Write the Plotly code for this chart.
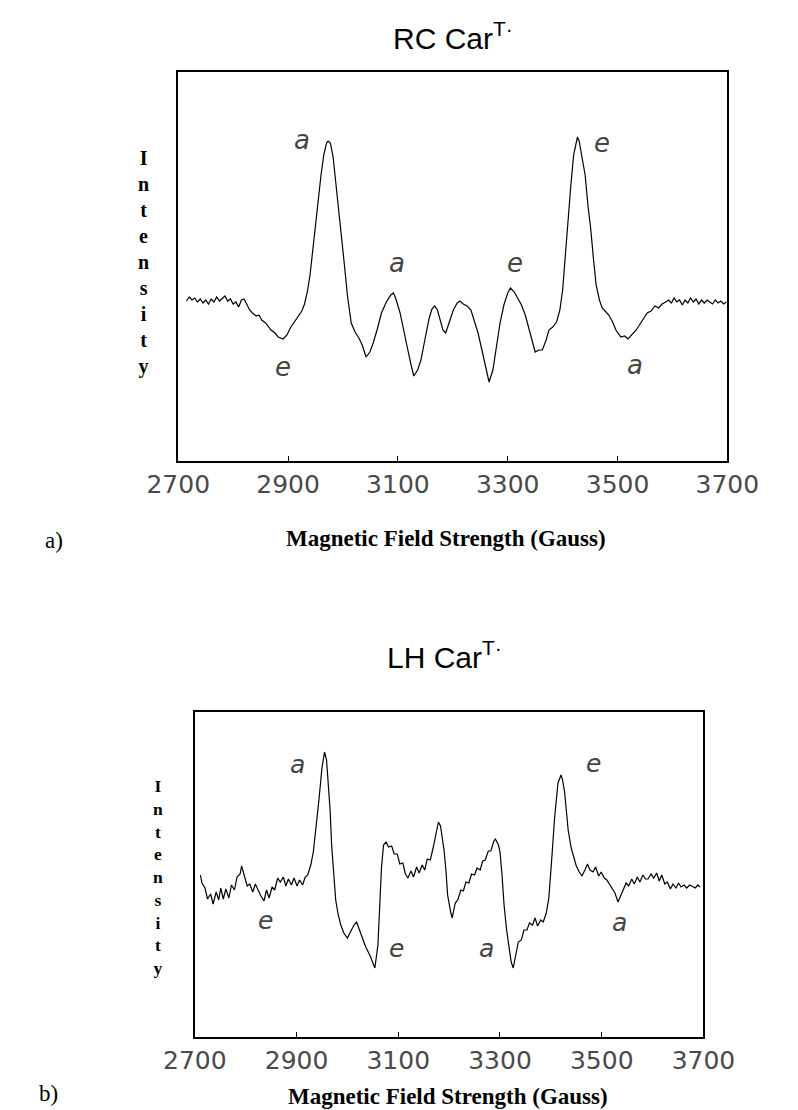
import plotly.graph_objects as go

# ---------------- data ----------------
tick_values = [2700, 2900, 3100, 3300, 3500, 3700]

rc_field = [2715, 2720, 2725, 2730, 2735, 2740, 2745, 2750, 2755, 2760, 2765, 2770, 2775, 2780,
            2785, 2790, 2795, 2800, 2805, 2810, 2815, 2820, 2825, 2830, 2835, 2842, 2847, 2852,
            2859, 2864, 2869, 2876, 2882, 2891, 2898, 2904, 2911, 2918, 2925, 2930, 2935, 2940,
            2945, 2950, 2955, 2960, 2965, 2970, 2973, 2977, 2982, 2987, 2992, 2997, 3003, 3008,
            3015, 3022, 3029, 3035, 3042, 3049, 3055, 3062, 3070, 3079, 3087, 3092, 3097, 3104,
            3111, 3117, 3124, 3129, 3136, 3142, 3149, 3157, 3162, 3167, 3172, 3177, 3182, 3187,
            3194, 3201, 3208, 3213, 3219, 3226, 3233, 3239, 3246, 3253, 3260, 3266, 3273, 3280,
            3286, 3293, 3300, 3305, 3312, 3318, 3325, 3332, 3338, 3345, 3350, 3357, 3363, 3370,
            3375, 3382, 3389, 3395, 3400, 3405, 3410, 3415, 3420, 3424, 3427, 3430, 3435, 3441,
            3446, 3451, 3456, 3461, 3467, 3472, 3479, 3484, 3491, 3497, 3506, 3513, 3519, 3526,
            3534, 3541, 3548, 3554, 3561, 3568, 3575, 3581, 3588, 3593, 3598, 3603, 3608, 3613,
            3618, 3623, 3628, 3633, 3638, 3643, 3648, 3653, 3658, 3663, 3668, 3673, 3678, 3683,
            3688, 3693, 3698]
rc_intensity = [-0.1, 0.3, 0.0, 0.2, -0.2, 0.1, -0.3, 0.0, -0.4, 0.1, -0.2, 0.3, -0.1, 0.2,
                0.4, -0.1, 0.1, -0.4, -0.2, -0.7, 0.0, 0.1, -0.5, -1.0, -1.3, -1.6, -1.5, -2.0,
                -2.3, -2.6, -3.0, -3.3, -3.7, -3.9, -3.5, -2.8, -2.2, -1.6, -1.1, -0.4, 0.8, 2.5,
                5.0, 7.5, 10.2, 12.5, 14.5, 15.7, 15.9, 15.7, 14.3, 11.8, 9.0, 6.2, 3.3, 0.5,
                -2.3, -3.2, -3.8, -4.5, -5.7, -5.2, -4.3, -3.0, -1.3, -0.2, 0.5, 0.7, 0.0, -1.3,
                -3.0, -4.7, -6.5, -7.6, -7.0, -6.0, -4.0, -1.8, -0.9, -0.6, -1.0, -2.0, -3.0, -3.3,
                -2.2, -1.0, -0.3, -0.1, -0.4, -0.6, -1.0, -2.0, -3.3, -5.0, -6.7, -8.2, -7.0, -4.5,
                -2.3, -0.5, 0.7, 1.2, 0.8, 0.2, -0.5, -1.5, -2.8, -4.2, -5.2, -5.0, -5.0, -4.0,
                -3.0, -2.7, -2.2, -1.0, 1.0, 4.5, 8.3, 11.5, 14.5, 15.7, 16.3, 15.9, 14.5, 12.5,
                9.5, 7.2, 4.2, 1.5, 0.0, -0.8, -1.2, -1.5, -2.2, -3.0, -3.7, -3.6, -3.9, -3.5,
                -3.0, -2.4, -1.8, -1.3, -1.1, -0.6, -0.8, -0.4, -0.2, 0.0, -0.3, 0.2, -0.2, 0.0,
                -0.5, 0.0, -0.3, 0.2, -0.2, 0.1, -0.4, 0.0, -0.3, 0.0, -0.2, -0.4, 0.0, -0.3,
                -0.1, -0.4, -0.2]

lh_field = [2711, 2714, 2720, 2725, 2731, 2736, 2742, 2747, 2751, 2756, 2761, 2767, 2772, 2778,
            2783, 2789, 2792, 2798, 2803, 2808, 2814, 2819, 2825, 2830, 2836, 2841, 2846, 2852,
            2857, 2863, 2868, 2874, 2879, 2884, 2890, 2895, 2901, 2906, 2912, 2917, 2922, 2928,
            2933, 2939, 2944, 2950, 2953, 2955, 2959, 2962, 2966, 2969, 2973, 2977, 2982, 2987,
            2993, 3000, 3006, 3013, 3018, 3024, 3029, 3036, 3044, 3049, 3054, 3060, 3063, 3067,
            3071, 3076, 3081, 3087, 3092, 3098, 3103, 3109, 3114, 3119, 3125, 3130, 3136, 3141,
            3147, 3152, 3157, 3163, 3168, 3174, 3179, 3183, 3186, 3190, 3194, 3197, 3203, 3206,
            3212, 3217, 3223, 3228, 3233, 3239, 3244, 3250, 3255, 3261, 3266, 3271, 3277, 3282,
            3288, 3291, 3297, 3300, 3304, 3308, 3313, 3318, 3322, 3326, 3331, 3336, 3342, 3347,
            3353, 3358, 3364, 3369, 3374, 3380, 3385, 3391, 3396, 3400, 3403, 3407, 3411, 3414,
            3420, 3423, 3427, 3430, 3434, 3440, 3445, 3450, 3456, 3461, 3467, 3472, 3477, 3483,
            3488, 3494, 3499, 3505, 3510, 3515, 3521, 3526, 3532, 3537, 3543, 3548, 3553, 3559,
            3564, 3570, 3575, 3581, 3586, 3591, 3597, 3602, 3608, 3613, 3618, 3624, 3629, 3635,
            3640, 3646, 3651, 3656, 3662, 3667, 3673, 3678, 3684, 3689, 3693]
lh_intensity = [0.5, -0.3, -0.8, -1.9, -1.4, -2.4, -1.2, -2.0, -0.8, -1.9, -0.9, -1.8, -0.5, -1.0,
                0.3, 0.6, 1.4, 0.2, -0.6, -0.4, -1.2, -0.4, -1.1, -1.6, -2.1, -1.0, -1.8, -0.7,
                -1.0, 0.2, -0.2, 0.3, -0.6, 0.1, -0.5, 0.2, -0.6, 0.0, -0.5, 0.3, 0.5, 1.5,
                2.8, 5.5, 8.0, 11.2, 12.5, 12.8, 12.0, 10.0, 7.0, 3.5, 0.5, -2.0, -3.5, -4.5,
                -5.3, -5.8, -5.2, -4.5, -4.2, -5.0, -5.7, -6.7, -7.5, -8.2, -8.8, -6.5, -2.5, 1.2,
                3.5, 3.8, 3.3, 3.4, 2.6, 2.6, 1.6, 1.7, 0.6, 0.2, 0.9, 0.3, 1.3, 0.7,
                1.5, 1.0, 2.1, 2.0, 3.1, 4.6, 5.8, 5.4, 4.2, 3.0, 0.8, -1.5, -3.2, -3.8,
                -2.3, -2.0, -1.0, -1.1, -0.2, -0.3, 0.6, 0.5, 1.2, 1.0, 1.9, 2.0, 2.9, 2.9,
                3.9, 4.1, 3.5, 2.8, 0.5, -2.5, -5.0, -7.0, -8.2, -8.8, -7.5, -6.2, -6.0, -5.0,
                -5.0, -4.3, -4.5, -3.8, -4.6, -4.0, -4.2, -3.3, -1.8, 0.5, 3.0, 6.0, 8.3, 9.7,
                10.5, 10.0, 8.8, 7.0, 5.0, 3.2, 2.2, 1.4, 0.8, 0.4, 1.0, 1.6, 1.0, 0.8,
                1.3, 0.4, 0.8, 0.2, 0.0, -0.4, -0.8, -1.3, -2.2, -1.6, -1.0, -0.3, -0.6, 0.1,
                -0.4, 0.3, -0.2, 0.5, 0.1, 0.1, 0.6, 0.2, 0.7, -0.1, 0.5, -0.4, -0.2, -0.9,
                -0.4, -0.8, -0.3, -0.7, -0.5, -0.8, -0.5, -0.6, -0.8, -0.5, -0.7]

rc_mark_text = ["a", "e", "a", "e", "e", "a"]
rc_mark_field = [2925, 2891, 3099, 3313, 3472, 3531]
rc_mark_intensity = [16.0, -6.7, 3.7, 3.7, 15.7, -6.5]

lh_mark_text = ["a", "e", "e", "a", "e", "a"]
lh_mark_field = [2901, 2839, 3096, 3273, 3483, 3535]
lh_mark_intensity = [11.6, -4.0, -6.8, -6.8, 11.7, -4.2]

titles = ["RC Car<sup>T·</sup>", "LH Car<sup>T·</sup>"]
panel_tags = ["a)", "b)"]
x_title = "Magnetic Field Strength (Gauss)"
y_title = "Intensity"

# ---------------- figure ----------------
W, H = 798, 1110
fig = go.Figure()
fig.add_trace(go.Scatter(x=rc_field, y=rc_intensity, mode="lines",
                         line=dict(color="black", width=1.2), xaxis="x", yaxis="y",
                         showlegend=False, hoverinfo="skip"))
fig.add_trace(go.Scatter(x=lh_field, y=lh_intensity, mode="lines",
                         line=dict(color="black", width=1.2), xaxis="x2", yaxis="y2",
                         showlegend=False, hoverinfo="skip"))

tick_font = dict(family="DejaVu Sans", size=25, color="#4a4a4a")
xcommon = dict(range=[2700, 3700], tickvals=tick_values, ticktext=[str(v) for v in tick_values],
               showgrid=False, zeroline=False, showline=True, linecolor="black", linewidth=1.5,
               mirror=True, ticks="inside", ticklen=5, tickcolor="black", tickfont=tick_font)
ycommon = dict(showgrid=False, zeroline=False, showline=True, linecolor="black", linewidth=1.5,
               mirror=True, showticklabels=False, ticks="")


def py(p):
    return 1 - p / H


fig.update_layout(
    width=W, height=H, margin=dict(l=0, r=0, t=0, b=0),
    paper_bgcolor="white", plot_bgcolor="white",
    xaxis=dict(domain=[159 / W, 756 / W], anchor="y", **xcommon),
    yaxis=dict(domain=[py(461), py(72)], range=[-16.1, 22.8], anchor="x", **ycommon),
    xaxis2=dict(domain=[177 / W, 730 / W], anchor="y2", **xcommon),
    yaxis2=dict(domain=[py(1037), py(712)], range=[-15.7, 16.8], anchor="x2", **ycommon),
)

ann = []


def add(text, x, y, font, xref="paper", yref="paper"):
    if xref == "paper":
        x = x / W
    if yref == "paper":
        y = py(y)
    ann.append(dict(text=text, x=x, y=y, xref=xref, yref=yref, showarrow=False,
                    xanchor="center", yanchor="middle", align="center", font=font))


mark_font = dict(family="DejaVu Sans", size=26, color="#444444")
for t, xv, yv in zip(rc_mark_text, rc_mark_field, rc_mark_intensity):
    add("<i>%s</i>" % t, xv, yv, mark_font, "x", "y")
mark_font2 = dict(family="DejaVu Sans", size=25, color="#444444")
for t, xv, yv in zip(lh_mark_text, lh_mark_field, lh_mark_intensity):
    add("<i>%s</i>" % t, xv, yv, mark_font2, "x2", "y2")

title_font = dict(family="Liberation Sans", size=30, color="black")
add(titles[0], 458, 36, title_font)
add(titles[1], 448, 655, title_font)

xt_font = dict(family="Liberation Serif", size=23, color="black")
add("<b>%s</b>" % x_title, 450, 539, xt_font)
add("<b>%s</b>" % x_title, 452, 1096, xt_font)

tag_font = dict(family="Liberation Serif", size=23, color="black")
add(panel_tags[0], 24, 540, tag_font)
add(panel_tags[1], 18, 1093, tag_font)

stacked = "<br>".join("<b>%s</b>" % c for c in y_title)
add(stacked, 121, 262, dict(family="Liberation Serif", size=20, color="black"))
add(stacked, 137, 877, dict(family="Liberation Serif", size=17.5, color="black"))

fig.update_layout(annotations=ann)
fig.write_html("out.html")
